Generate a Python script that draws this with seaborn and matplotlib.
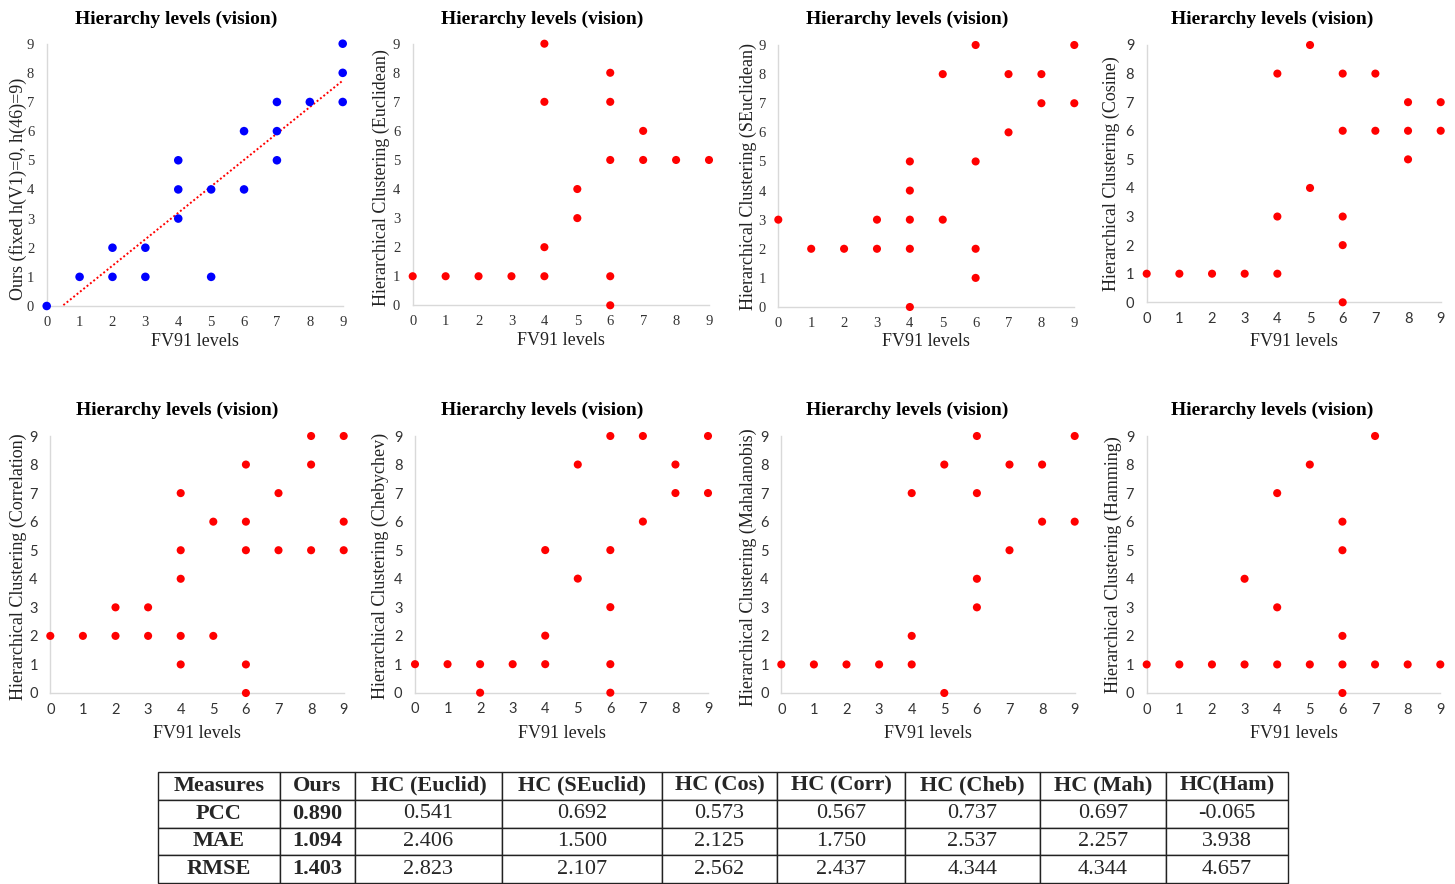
import matplotlib
matplotlib.use("Agg")
import matplotlib.pyplot as plt
import numpy as np
import pandas as pd
import seaborn as sns

# ---------------- data ----------------
fv_levels = list(range(10))

ours_x = [0, 1, 2, 2, 3, 3, 4, 4, 4, 5, 5, 6, 6, 7, 7, 7, 8, 9, 9, 9]
ours_y = [0, 1, 2, 1, 2, 1, 5, 4, 3, 4, 1, 6, 4, 7, 6, 5, 7, 9, 8, 7]

euclid_x = [0, 1, 2, 3, 4, 4, 4, 4, 5, 5, 6, 6, 6, 6, 6, 7, 7, 8, 9]
euclid_y = [1, 1, 1, 1, 1, 2, 7, 9, 3, 4, 0, 1, 5, 7, 8, 5, 6, 5, 5]

seuclid_x = [0, 1, 2, 3, 3, 4, 4, 4, 4, 4, 5, 5, 6, 6, 6, 6, 7, 7, 8, 8, 9, 9]
seuclid_y = [3, 2, 2, 2, 3, 0, 2, 3, 4, 5, 3, 8, 1, 2, 5, 9, 6, 8, 7, 8, 7, 9]

cosine_x = [0, 1, 2, 3, 4, 4, 4, 5, 5, 6, 6, 6, 6, 6, 7, 7, 8, 8, 8, 9, 9]
cosine_y = [1, 1, 1, 1, 1, 3, 8, 4, 9, 0, 2, 3, 6, 8, 6, 8, 5, 6, 7, 6, 7]

corr_x = [0, 1, 2, 2, 3, 3, 4, 4, 4, 4, 4, 5, 5, 6, 6, 6, 6, 6, 7, 7, 8, 8, 8, 9, 9, 9]
corr_y = [2, 2, 2, 3, 2, 3, 1, 2, 4, 5, 7, 2, 6, 0, 1, 5, 6, 8, 5, 7, 5, 8, 9, 5, 6, 9]

cheb_x = [0, 1, 2, 2, 3, 4, 4, 4, 5, 5, 6, 6, 6, 6, 6, 7, 7, 8, 8, 9, 9]
cheb_y = [1, 1, 0, 1, 1, 1, 2, 5, 4, 8, 0, 1, 3, 5, 9, 6, 9, 7, 8, 7, 9]

mahal_x = [0, 1, 2, 3, 4, 4, 4, 5, 5, 6, 6, 6, 6, 7, 7, 8, 8, 9, 9]
mahal_y = [1, 1, 1, 1, 1, 2, 7, 0, 8, 3, 4, 7, 9, 5, 8, 6, 8, 6, 9]

hamming_x = [0, 1, 2, 3, 3, 4, 4, 4, 5, 5, 6, 6, 6, 6, 6, 7, 7, 8, 9]
hamming_y = [1, 1, 1, 1, 4, 1, 3, 7, 1, 8, 0, 1, 2, 5, 6, 1, 9, 1, 1]

panel_titles = ["Hierarchy levels (vision)"] * 8
x_label = "FV91 levels"
y_labels = [
    "Ours (fixed h(V1)=0, h(46)=9)",
    "Hierarchical Clustering (Euclidean)",
    "Hierarchical Clustering (SEuclidean)",
    "Hierarchical Clustering (Cosine)",
    "Hierarchical Clustering (Correlation)",
    "Hierarchical Clustering (Chebychev)",
    "Hierarchical Clustering (Mahalanobis)",
    "Hierarchical Clustering (Hamming)",
]

table_columns = ["Measures", "Ours", "HC (Euclid)", "HC (SEuclid)", "HC (Cos)",
                 "HC (Corr)", "HC (Cheb)", "HC (Mah)", "HC(Ham)"]
table_measures = ["PCC", "MAE", "RMSE"]
pcc_values = ["0.890", "0.541", "0.692", "0.573", "0.567", "0.737", "0.697", "-0.065"]
mae_values = ["1.094", "2.406", "1.500", "2.125", "1.750", "2.537", "2.257", "3.938"]
rmse_values = ["1.403", "2.823", "2.107", "2.562", "2.437", "4.344", "4.344", "4.657"]

# ---------------- style ----------------
sns.set_style("white")
SERIF = "Liberation Serif"
SANS = "Lato"
plt.rcParams["font.family"] = [SERIF, "DejaVu Serif"]

W, H = 1455, 884
fig = plt.figure(figsize=(W / 100, H / 100), dpi=100)

panels = [
    (ours_x, ours_y, "#0000FF", 38, (46.7, 342.7, 306.0, 43.7), (176.0, 19), 18.0, 341, SERIF, 0.446),
    (euclid_x, euclid_y, "#FF0000", 34, (412.7, 709.0, 305.3, 43.7), (541.7, 19), 381.7, 341, SERIF, 0.49),
    (seuclid_x, seuclid_y, "#FF0000", 34, (778.3, 1074.3, 307.0, 45.0), (906.7, 19), 748.3, 342, SERIF, 0.5),
    (cosine_x, cosine_y, "#FF0000", 34, (1146.7, 1440.7, 302.3, 45.0), (1272.5, 19), 1111.7, 342, SANS, 0.5),
    (corr_x, corr_y, "#FF0000", 34, (50.3, 343.7, 693.0, 436.0), (176.7, 410), 18.3, 733, SANS, 0.49),
    (cheb_x, cheb_y, "#FF0000", 34, (415.0, 708.0, 692.7, 436.0), (541.7, 410), 380.7, 733, SANS, 0.494),
    (mahal_x, mahal_y, "#FF0000", 34, (781.3, 1074.7, 693.0, 436.0), (907.5, 410), 748.3, 733, SANS, 0.49),
    (hamming_x, hamming_y, "#FF0000", 34, (1146.7, 1440.3, 693.0, 436.0), (1272.5, 410), 1113.3, 733, SANS, 0.5),
]

for i, (xs, ys, col, size, geo, tpos, ylab_cx, xlab_cy, tfont, ylab_frac) in enumerate(panels):
    x0, x9, y0, y9 = geo
    ax = fig.add_axes([x0 / W, 1 - y0 / H, (x9 - x0) / W, (y0 - y9) / H])
    df = pd.DataFrame({"fv": xs, "hc": ys})
    sns.scatterplot(data=df, x="fv", y="hc", ax=ax, color=col, s=size,
                    edgecolor="none", linewidth=0, clip_on=False, legend=False, zorder=3)
    if i == 0:
        sns.regplot(data=df, x="fv", y="hc", ax=ax, scatter=False, ci=None,
                    line_kws={"color": "#FF0000", "linestyle": (0, (1, 1.2)), "linewidth": 1.4, "zorder": 2})
    ax.set_xlim(0, 9)
    ax.set_ylim(0, 9)
    ax.set_xticks(fv_levels)
    ax.set_yticks(fv_levels)
    ax.set_xticklabels([str(v) for v in fv_levels])
    ax.set_yticklabels([str(v) for v in fv_levels])
    ax.tick_params(axis="both", length=0)
    ax.tick_params(axis="x", pad=7)
    ax.tick_params(axis="y", pad=9)
    for lab in ax.get_xticklabels() + ax.get_yticklabels():
        lab.set_fontfamily(tfont)
        lab.set_fontsize(10.5)
        lab.set_color("#333333")
    for side in ["top", "right"]:
        ax.spines[side].set_visible(False)
    for side in ["left", "bottom"]:
        ax.spines[side].set_color("#d9d9d9")
        ax.spines[side].set_linewidth(1.0)
    ax.grid(False)
    ax.set_facecolor("none")
    wpx = x9 - x0
    hpx = y0 - y9
    ax.set_xlabel(x_label, fontsize=13, family=SERIF, color="#222222", va="center")
    ax.xaxis.set_label_coords(0.5, (y0 - xlab_cy) / hpx)
    ax.set_ylabel(y_labels[i], fontsize=13, family=SERIF, color="#222222", va="center")
    ax.yaxis.set_label_coords((ylab_cx - x0) / wpx, ylab_frac)
    fig.text(tpos[0] / W, 1 - tpos[1] / H, panel_titles[i], ha="center", va="center",
             fontsize=14, fontweight="bold", family=SERIF, color="black")

# ---------------- table ----------------
col_edges = [158, 280, 355, 502, 662, 777, 905, 1040, 1166, 1288]
tab_top, tab_bottom = 772, 883
tax = fig.add_axes([col_edges[0] / W, 1 - tab_bottom / H,
                    (col_edges[-1] - col_edges[0]) / W, (tab_bottom - tab_top) / H])
tax.axis("off")
rows = [[m] + vals for m, vals in zip(table_measures, [pcc_values, mae_values, rmse_values])]
widths = np.diff(col_edges) / (col_edges[-1] - col_edges[0])
tbl = tax.table(cellText=rows, colLabels=table_columns, cellLoc="center",
                colWidths=list(widths), bbox=[0, 0, 1, 1])
tbl.auto_set_font_size(False)
for (r, c), cell in tbl.get_celld().items():
    cell.set_edgecolor("#222222")
    cell.set_linewidth(1.0)
    txt = cell.get_text()
    txt.set_fontfamily(SERIF)
    txt.set_fontsize(16)
    if r == 0 or c in (0, 1):
        txt.set_fontweight("bold")

fig.savefig("out.png", dpi=100, facecolor="white")
